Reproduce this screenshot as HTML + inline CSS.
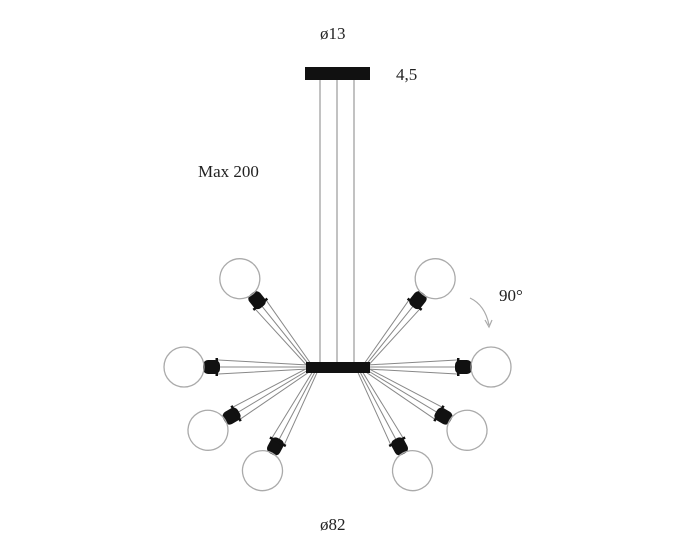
<!DOCTYPE html>
<html><head><meta charset="utf-8"><style>
body{margin:0;background:#fff;width:700px;height:560px;overflow:hidden}
svg{display:block}
text{font-family:"Liberation Serif",serif;font-size:17px;fill:#222}
</style></head><body>
<svg width="700" height="560" viewBox="0 0 700 560">
<text x="320" y="39">ø13</text>
<text x="396" y="80">4,5</text>
<text x="198" y="177">Max 200</text>
<text x="499" y="301">90°</text>
<text x="320" y="530">ø82</text>
<rect x="305" y="67" width="65" height="13" fill="#111"/>
<g stroke="#999" stroke-width="1.2">
<line x1="320" y1="80" x2="320" y2="362"/>
<line x1="337" y1="80" x2="337" y2="362"/>
<line x1="354" y1="80" x2="354" y2="362"/>
</g>
<path d="M470 298 Q485 305 489 325" fill="none" stroke="#aaa" stroke-width="1.2"/>
<path d="M485 320 L489 327 L492 320" fill="none" stroke="#aaa" stroke-width="1.2"/>

<g fill="none" stroke="#888" stroke-width="1">
<g id="L">
<g transform="translate(310,366) rotate(-128.8)">
 <path d="M0 -2 L78 -7 M0 2 L78 7 M0 0 L78 0"/><rect x="76" y="-7" width="17" height="14" rx="5" fill="#111" stroke="none"/><rect x="78" y="-9" width="2.5" height="18" fill="#111" stroke="none"/><circle cx="112" cy="0" r="20" stroke="#aaa" stroke-width="1.3"/>
</g>
<g transform="translate(308,367) rotate(180)">
 <path d="M0 -2 L90 -7 M0 2 L90 7 M0 0 L90 0"/><rect x="88" y="-7" width="17" height="14" rx="5" fill="#111" stroke="none"/><rect x="90" y="-9" width="2.5" height="18" fill="#111" stroke="none"/><circle cx="124" cy="0" r="20" stroke="#aaa" stroke-width="1.3"/>
</g>
<g transform="translate(310,369) rotate(149)">
 <path d="M0 -2 L85 -7 M0 2 L85 7 M0 0 L85 0"/><rect x="83" y="-7" width="17" height="14" rx="5" fill="#111" stroke="none"/><rect x="85" y="-9" width="2.5" height="18" fill="#111" stroke="none"/><circle cx="119" cy="0" r="20" stroke="#aaa" stroke-width="1.3"/>
</g>
<g transform="translate(316,370) rotate(118)">
 <path d="M0 -2 L80 -7 M0 2 L80 7 M0 0 L80 0"/><rect x="78" y="-7" width="17" height="14" rx="5" fill="#111" stroke="none"/><rect x="80" y="-9" width="2.5" height="18" fill="#111" stroke="none"/><circle cx="114" cy="0" r="20" stroke="#aaa" stroke-width="1.3"/>
</g>
</g>
<use href="#L" transform="translate(675,0) scale(-1,1)"/>
</g>
<rect x="306" y="362" width="64" height="11" fill="#111"/>
</svg>
</body></html>
